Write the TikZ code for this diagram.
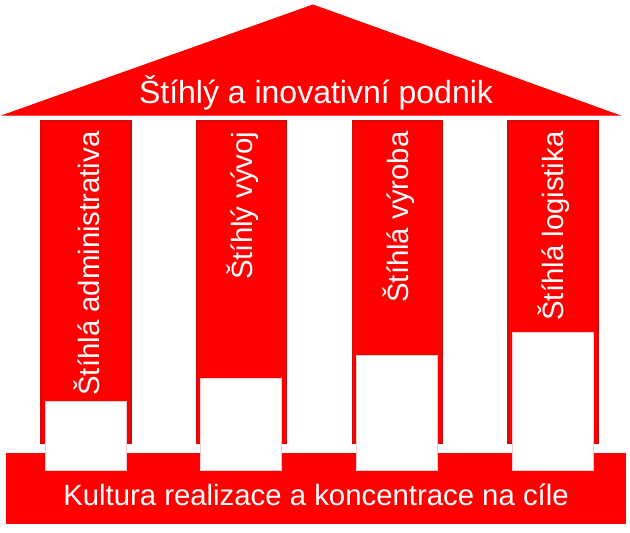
\documentclass[tikz,border=0pt]{standalone}
\usepackage{fontspec}
\setmainfont{Liberation Sans}
\definecolor{pillarred}{RGB}{255,0,0}
\definecolor{edgered}{RGB}{210,10,10}
\tikzset{every picture/.style={line width=0.75pt}}
\begin{document}
\begin{tikzpicture}[x=0.75pt,y=0.75pt,yscale=-1,xscale=1]
%set diagram left start at 0, and has height of 532
\useasboundingbox (0,0) rectangle (630,532);

%Shape: Triangle [id:roof] 
\draw  [draw=pillarred, fill=pillarred] (4,115) -- (313,5) -- (618,115) -- cycle ;
%Shape: Rectangle [id:col1] 
\draw  [draw=edgered, fill=pillarred, line width=1] (41,121) -- (131,121) -- (131,443) -- (41,443) -- cycle ;
%Shape: Rectangle [id:col2] 
\draw  [draw=edgered, fill=pillarred, line width=1] (196.7,121) -- (286.7,121) -- (286.7,443) -- (196.7,443) -- cycle ;
%Shape: Rectangle [id:col3] 
\draw  [draw=edgered, fill=pillarred, line width=1] (352.3,121) -- (442.3,121) -- (442.3,443) -- (352.3,443) -- cycle ;
%Shape: Rectangle [id:col4] 
\draw  [draw=edgered, fill=pillarred, line width=1] (508,121) -- (598,121) -- (598,443) -- (508,443) -- cycle ;
%Shape: Rectangle [id:base] 
\draw  [draw=pillarred, fill=pillarred] (6,453) -- (625,453) -- (625,523) -- (6,523) -- cycle ;

%Shape: Rectangle [id:white1] 
\draw  [draw={rgb, 255:red, 235; green, 205; blue, 205 }, fill=white, line width=0.5] (45,401) -- (126,401) -- (126,470) -- (45,470) -- cycle ;
%Shape: Rectangle [id:white2] 
\draw  [draw={rgb, 255:red, 235; green, 205; blue, 205 }, fill=white, line width=0.5] (200.7,378) -- (281.7,378) -- (281.7,470) -- (200.7,470) -- cycle ;
%Shape: Rectangle [id:white3] 
\draw  [draw={rgb, 255:red, 235; green, 205; blue, 205 }, fill=white, line width=0.5] (356.3,355) -- (437.3,355) -- (437.3,470) -- (356.3,470) -- cycle ;
%Shape: Rectangle [id:white4] 
\draw  [draw={rgb, 255:red, 235; green, 205; blue, 205 }, fill=white, line width=0.5] (512,332) -- (593,332) -- (593,470) -- (512,470) -- cycle ;

% Text Node
\draw (316,93) node [inner sep=0pt, text=white, font=\fontsize{24}{28}\selectfont] (roofText) {Štíhlý a inovativní podnik};
% Text Node
\draw (316,495) node [inner sep=0pt, text=white, font=\fontsize{22}{26}\selectfont] (baseText) {Kultura realizace a koncentrace na cíle};
% Text Node
\draw (87,131) node [anchor=east, rotate=90, inner sep=0pt, text=white, font=\fontsize{22}{26}\selectfont] (colText1) {Štíhlá administrativa};
% Text Node
\draw (242.7,131) node [anchor=east, rotate=90, inner sep=0pt, text=white, font=\fontsize{22}{26}\selectfont] (colText2) {Štíhlý vývoj};
% Text Node
\draw (398.3,131) node [anchor=east, rotate=90, inner sep=0pt, text=white, font=\fontsize{22}{26}\selectfont] (colText3) {Štíhlá výroba};
% Text Node
\draw (554,131) node [anchor=east, rotate=90, inner sep=0pt, text=white, font=\fontsize{22}{26}\selectfont] (colText4) {Štíhlá logistika};

\end{tikzpicture}
\end{document}
